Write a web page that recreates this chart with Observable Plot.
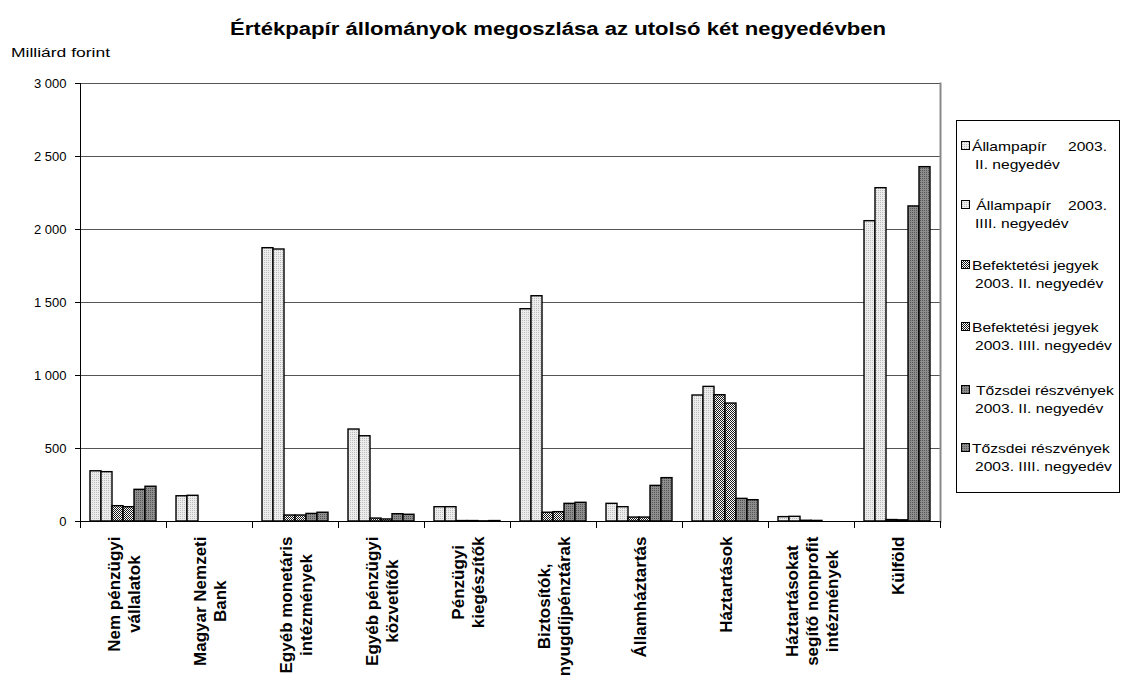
<!DOCTYPE html>
<html><head><meta charset="utf-8">
<script src="https://cdn.jsdelivr.net/npm/d3@7"></script>
<script src="https://cdn.jsdelivr.net/npm/@observablehq/plot@0.6"></script>
<style>
html,body{margin:0;padding:0;background:#fff;}
#wrap{position:relative;width:1121px;height:678px;overflow:hidden;font-family:Arial,"Liberation Sans",sans-serif;}
#overlay{position:absolute;left:0;top:0;pointer-events:none;}
</style></head><body>
<svg width="0" height="0" style="position:absolute;left:0;top:0">
<defs>
<pattern id="pat-light" width="2" height="2" patternUnits="userSpaceOnUse"><rect width="2" height="2" fill="#ededed"/><rect width="1" height="1" fill="#bdbdbd"/></pattern>
<pattern id="pat-check" width="2" height="2" patternUnits="userSpaceOnUse"><rect width="2" height="2" fill="#ffffff"/><rect width="1" height="1" fill="#1a1a1a"/><rect x="1" y="1" width="1" height="1" fill="#1a1a1a"/></pattern>
<pattern id="pat-dark" width="2" height="2" patternUnits="userSpaceOnUse"><rect width="2" height="2" fill="#8e8e8e"/><rect width="1" height="1" fill="#555555"/></pattern>
</defs></svg>
<div id="wrap"></div>
<script>
// ---- data ----
const categories = ["Nem pénzügyi vállalatok","Magyar Nemzeti Bank","Egyéb monetáris intézmények","Egyéb pénzügyi közvetítők","Pénzügyi kiegészítők","Biztosítók, nyugdíjpénztárak","Államháztartás","Háztartások","Háztartásokat segítő nonprofit intézmények","Külföld"];
const categoryLabels = ["Nem pénzügyi\nvállalatok","Magyar Nemzeti\nBank","Egyéb monetáris\nintézmények","Egyéb pénzügyi\nközvetítők","Pénzügyi\nkiegészítők","Biztosítók,\nnyugdíjpénztárak","Államháztartás","Háztartások","Háztartásokat\nsegítő nonprofit\nintézmények","Külföld"];
const seriesNames = ["Állampapír 2003. II. negyedév","Állampapír 2003. IIII. negyedév","Befektetési jegyek 2003. II. negyedév","Befektetési jegyek 2003. IIII. negyedév","Tőzsdei részvények 2003. II. negyedév","Tőzsdei részvények 2003. IIII. negyedév"];
const allampapirII       = [344, 173, 1872, 630, 98, 1454, 121, 863, 30, 2057];
const allampapirIIII     = [338, 176, 1863, 584, 98, 1543,  98, 922, 32, 2283];
const befektetesiII      = [105,   0,   41,  20,  3,   60,  27, 865,  5,   10];
const befektetesiIIII    = [ 98,   0,   41,  14,  3,   64,  27, 808,  4,    8];
const tozsdeiII          = [217,   0,   52,  50,  1,  121, 244, 155,  0, 2158];
const tozsdeiIIII        = [238,   0,   60,  46,  3,  128, 297, 146,  0, 2427];
const yTicks = [0, 500, 1000, 1500, 2000, 2500, 3000];
const legendLines = [
  [["Állampapír","2003."], "II. negyedév"],
  [[" Állampapír","2003."], "IIII. negyedév"],
  ["Befektetési jegyek", "2003. II. negyedév"],
  ["Befektetési jegyek", "2003. IIII. negyedév"],
  [" Tőzsdei részvények", "2003. II. negyedév"],
  ["Tőzsdei részvények", "2003. IIII. negyedév"]
];
const seriesFills = ["url(#pat-light)","url(#pat-light)","url(#pat-check)","url(#pat-check)","url(#pat-dark)","url(#pat-dark)"];
const titleText = "Értékpapír állományok megoszlása az utolsó két negyedévben";
const yLabelText = "Milliárd forint";

// ---- build ----
const seriesValues = [allampapirII, allampapirIIII, befektetesiII, befektetesiIIII, tozsdeiII, tozsdeiIIII];
const rows = categories.flatMap((c, i) => seriesValues.map((arr, j) => ({cat: c, series: seriesNames[j], value: arr[i]}))).filter(d => d.value > 0);
const fmt = d3.formatLocale({thousands: "\u00a0", grouping: [3], decimal: ","}).format(",d");

const W = 1121, H = 678, mT = 83, mB = 157, mL = 76, mR = 177;
const frameH = H - mT - mB;
const FONT = "Arial, 'Liberation Sans', sans-serif";

const ctx = document.createElement("canvas").getContext("2d");
ctx.font = "bold 17px " + FONT;
const labelMarks = categories.map((c, i) => {
  const w = d3.max(categoryLabels[i].split("\n"), s => ctx.measureText(s).width);
  return Plot.text([c], {fx: d => d, text: () => categoryLabels[i], frameAnchor: "bottom", rotate: -90,
    textAnchor: "middle", lineAnchor: "middle", lineHeight: 1.18, fontSize: 17, fontWeight: "bold", fill: "black", dy: 15 + w / 2});
});

const chart = Plot.plot({
  width: W, height: H,
  marginTop: mT, marginBottom: mB, marginLeft: mL, marginRight: mR,
  style: {fontFamily: FONT, fontSize: "12px", background: "white", color: "black", overflow: "visible"},
  fx: {domain: categories, padding: 0, axis: null},
  x: {domain: seriesNames, paddingInner: 0, paddingOuter: 0.7, axis: null},
  y: {domain: [0, 3000]},
  color: {domain: seriesNames, range: seriesFills},
  marks: [
    Plot.ruleY(yTicks.filter(d => d > 0), {stroke: "#555", strokeWidth: 1}),
    Plot.barY(rows, {fx: "cat", x: "series", y: "value", fill: "series", stroke: "black", strokeWidth: 1.4}),
    Plot.ruleY([0], {stroke: "black"}),
    Plot.frame({anchor: "left", facetAnchor: "left", stroke: "black"}),
    Plot.frame({anchor: "right", facetAnchor: "right", stroke: "#8a8a8a", strokeWidth: 2}),
    Plot.frame({anchor: "left", insetTop: frameH, insetBottom: -6, stroke: "black"}),
    Plot.frame({anchor: "right", facetAnchor: "right", insetTop: frameH, insetBottom: -6, stroke: "black"}),
    Plot.axisY({anchor: "left", ticks: yTicks, tickFormat: fmt, tickSize: 5, tickPadding: 9, fontSize: 13, label: null}),
    ...labelMarks
  ]
});
chart.style.position = "absolute";
chart.style.left = "0px";
chart.style.top = "0px";
const wrap = document.getElementById("wrap");
wrap.appendChild(chart);

// ---- overlay: title, unit label, legend ----
const ov = d3.select(wrap).append("svg").attr("id", "overlay").attr("width", W).attr("height", H)
  .style("font-family", FONT);
ov.append("text").attr("x", 230).attr("y", 35).attr("font-size", 18).attr("font-weight", "bold")
  .attr("textLength", 656).attr("lengthAdjust", "spacingAndGlyphs").text(titleText);
ov.append("text").attr("x", 11).attr("y", 57).attr("font-size", 12.5)
  .attr("textLength", 99).attr("lengthAdjust", "spacingAndGlyphs").text(yLabelText);

const lg = ov.append("g");
lg.append("rect").attr("x", 956.5).attr("y", 120.5).attr("width", 163).attr("height", 372)
  .attr("fill", "white").attr("stroke", "black");
const entryY = [146, 205, 265, 327, 390, 448];
legendLines.forEach((e, i) => {
  const y = entryY[i];
  lg.append("rect").attr("x", 961.5).attr("y", y - 4.5).attr("width", 8).attr("height", 8)
    .attr("fill", seriesFills[i]).attr("stroke", "black");
  const addText = (x, yy, s, anchor) => lg.append("text")
    .attr("transform", `translate(${x},${yy}) scale(1.2,1)`)
    .attr("font-size", 13).attr("text-anchor", anchor || "start")
    .style("white-space", "pre").text(s);
  if (Array.isArray(e[0])) {
    addText(972, y + 4.5, e[0][0]);
    addText(1107, y + 4.5, e[0][1], "end");
  } else {
    addText(972, y + 4.5, e[0]);
  }
  addText(975, y + 23, e[1]);
});
</script>
</body></html>
